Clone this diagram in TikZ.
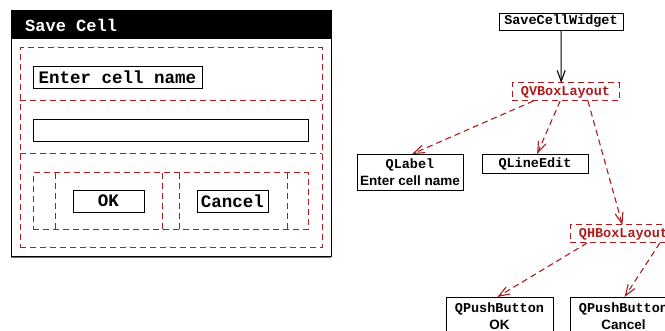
\documentclass[tikz,border=0pt]{standalone}
\usepackage{fontspec}
\setmainfont{Liberation Sans}
\setsansfont{Liberation Sans}
\setmonofont{Liberation Mono}
\usetikzlibrary{arrows.meta,calc}

\definecolor{laycol}{RGB}{172,28,28}

\begin{document}
\begin{tikzpicture}[x=1pt,y=-1pt,
  box/.style={anchor=north west,inner sep=0pt,outer sep=0pt,line width=0.9pt},
  widget/.style={box,draw=black},
  layout/.style={box,draw=laycol,dash pattern=on 6pt off 4pt,line width=1pt},
  layline/.style={draw=laycol,dash pattern=on 6pt off 4pt,line width=1pt},
  big/.style={font=\ttfamily\bfseries\fontsize{17.5}{20}\selectfont},
  small/.style={font=\ttfamily\bfseries\fontsize{13.5}{17}\selectfont},
  twoline/.style={align=center,font=\bfseries\fontsize{13.5}{17}\selectfont},
  owns/.style={draw=black,line width=1pt,-{Straight Barb[length=11pt,width=8pt,line width=1.1pt]}},
  holds/.style={draw=laycol,line width=1.1pt,dash pattern=on 6pt off 4pt,
                -{Straight Barb[length=11pt,width=8pt,line width=1.1pt]}},
]
\useasboundingbox (0,0) rectangle (665,331);
\clip (0,0) rectangle (665,331);

% ---------- the dialog ----------
\node[box,draw=black,line width=1pt,minimum width=320pt,minimum height=246pt] (frame) at (11,11) {};
\draw[black!55,line width=1.6pt] ($(frame.south west)+(0,0.6)$) -- ($(frame.south east)+(0,0.6)$);
\node[box,fill=black,minimum width=320pt,minimum height=28pt] (title) at (11,11) {};
\node[anchor=west,inner sep=0pt,text=white,font=\ttfamily\bfseries\fontsize{17}{20}\selectfont] (titletext) at (25,25) {Save Cell};

% outer vertical layout and its three rows
\node[layout,minimum width=302pt,minimum height=200pt] (vout) at (20,48) {};
\draw[layline] ($(vout.north west)+(0,53)$) -- ($(vout.north east)+(0,53)$);
\draw[layline] ($(vout.north west)+(0,106)$) -- ($(vout.north east)+(0,106)$);

\node[widget,minimum width=169pt,minimum height=22pt,big] (lbl) at (33,66) {Enter cell name};
\node[widget,minimum width=275pt,minimum height=22pt] (edit) at (33,119) {};

% horizontal layout with spacers
\node[layout,minimum width=275pt,minimum height=57pt] (hout) at (33,173) {};
\foreach \xx in {22,129,146,254}
  \draw[layline] ($(hout.north west)+(\xx,0)$) -- ($(hout.south west)+(\xx,0)$);

\node[widget,minimum width=71pt,minimum height=22pt,big] (okbtn) at (73,190) {OK};
\node[widget,minimum width=71pt,minimum height=22pt,big] (cancelbtn) at (197,190) {Cancel};

% ---------- the object tree ----------
\node[widget,minimum width=124pt,minimum height=17pt,small] (scw) at (499,13) {SaveCellWidget};
\node[layout,minimum width=107pt,minimum height=18pt,small,text=laycol] (vbox) at (512,83) {QVBoxLayout};
\node[widget,minimum width=106pt,minimum height=36pt,twoline] (qlabel) at (357,154)
  {\ttfamily QLabel\\\sffamily Enter cell name};
\node[widget,minimum width=106pt,minimum height=19pt,small] (qline) at (482,154) {QLineEdit};
\node[layout,minimum width=107pt,minimum height=18pt,small,text=laycol] (hbox) at (570,225) {QHBoxLayout};
\node[widget,minimum width=107pt,minimum height=38pt,twoline] (pbok) at (446,297)
  {\ttfamily QPushButton\\\sffamily OK};
\node[widget,minimum width=107pt,minimum height=38pt,twoline] (pbcancel) at (570,297)
  {\ttfamily QPushButton\\\sffamily Cancel};

\draw[owns] ($(scw.south west)!0.5!(scw.south east)$) -- ($(vbox.north west)!0.46!(vbox.north east)$);
\draw[holds] ($(vbox.south west)!0.2!(vbox.south east)$) -- ($(qlabel.north west)!0.52!(qlabel.north east)$);
\draw[holds] ($(vbox.south west)!0.45!(vbox.south east)$) -- ($(qline.north west)!0.52!(qline.north east)$);
\draw[holds] ($(vbox.south west)!0.71!(vbox.south east)$) -- ($(hbox.north west)!0.49!(hbox.north east)$);
\draw[holds] ($(hbox.south west)!0.16!(hbox.south east)$) -- ($(pbok.north west)!0.48!(pbok.north east)$);
\draw[holds] ($(hbox.south west)!0.84!(hbox.south east)$) -- ($(pbcancel.north west)!0.51!(pbcancel.north east)$);
\end{tikzpicture}
\end{document}
